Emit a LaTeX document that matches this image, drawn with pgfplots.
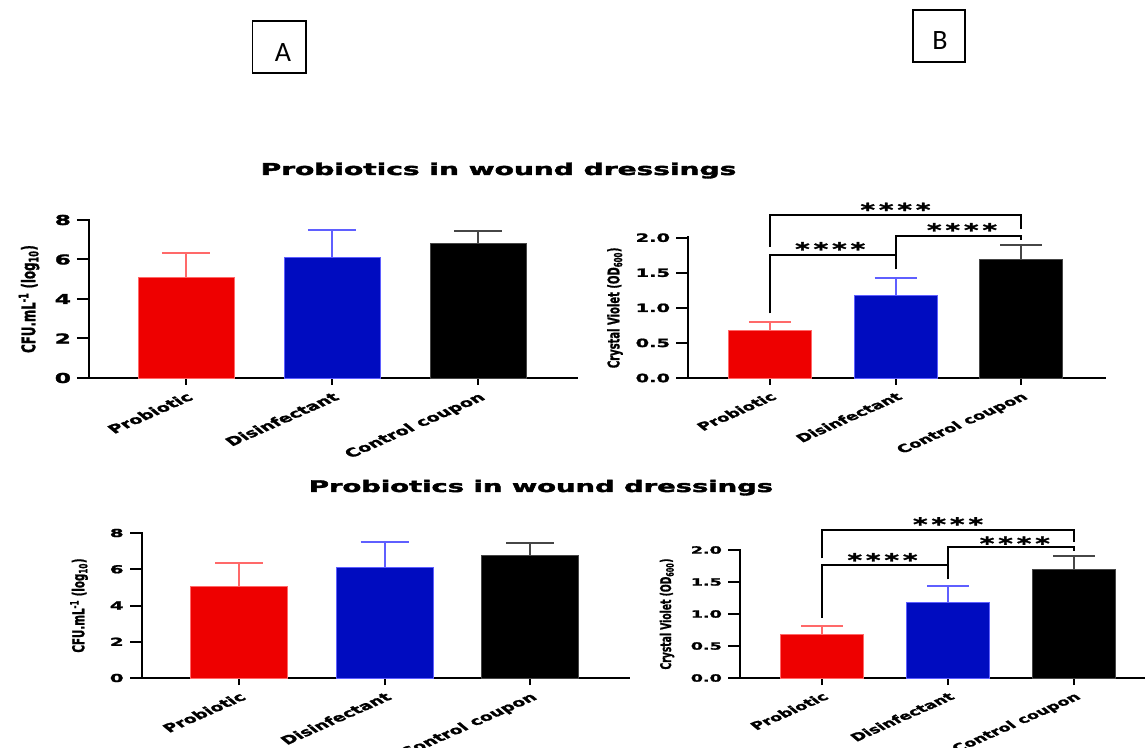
\documentclass[border=0pt]{standalone}
\usepackage{fontspec}
\usepackage{pgfplots}
\pgfplotsset{compat=1.18}
\newfontfamily\dv{DejaVu Sans}[BoldFeatures={FakeBold=1.4}]
\newfontfamily\dvt{DejaVu Sans}[BoldFeatures={FakeBold=2}]
\newfontfamily\calfont{Carlito}
\definecolor{cred}{RGB}{238,0,0}
\definecolor{cblue}{RGB}{0,12,192}
\definecolor{ered}{RGB}{255,105,105}
\definecolor{eblue}{RGB}{95,95,255}
\definecolor{eblack}{RGB}{70,70,70}
\pgfplotsset{
  panel/.style={
    scale only axis, axis lines=left,
    axis line style={-, line width=2.6pt, line cap=rect},
    tick align=outside,
    tick style={black, line width=2pt},
    major tick length=12pt,
    xtick style={/pgfplots/major tick length=7pt},
    enlargelimits=false, clip=false, ymin=0,
    xtick={0,1,2},
    xticklabels={Probiotic,Disinfectant,Control coupon},
    every axis y label/.style={at={(axis description cs:0,0.5)}, xshift=#1, rotate=90, yscale=1.6, anchor=center},
  },
  cfu/.style={ymax=8, ytick={0,2,4,6,8}, yticklabels={0,2,4,6,8},
    ylabel={CFU.mL\textsuperscript{-1} (log\textsubscript{10})}},
  cv/.style={ymax=2, ytick={0,0.5,1,1.5,2}, yticklabels={0.0,0.5,1.0,1.5,2.0},
    ylabel={Crystal Violet (OD\textsubscript{600})}},
  bar/.style n args={4}{ybar, bar width=#1, fill=#2, draw=#3, line width=0.8pt,
    error bars/.cd, y dir=plus, y explicit,
    error bar style={line width=2pt, color=#3},
    error mark options={rotate=90, line width=2pt, color=#3, mark size=#4}},
}
\newcommand{\stars}{*\hspace{0.14em}*\hspace{0.14em}*\hspace{0.14em}*}
\tikzset{stars/.style={font=\dv\bfseries\fontsize{18}{20}\selectfont, xscale=1.55, anchor=center, yshift=-4pt}}
\begin{document}
\begin{tikzpicture}
\useasboundingbox (0,0) rectangle (1145pt,747pt);
\fill[white] (0,0) rectangle (1145pt,747pt);
% A / B boxes
\draw[line width=1.4pt] (252.5pt,674pt) rectangle (306pt,726pt);
\node[font=\calfont\fontsize{28}{30}\selectfont, anchor=base] at (283pt,685pt) {A};
\draw[line width=1.4pt] (913pt,685pt) rectangle (965pt,737pt);
\node[font=\calfont\fontsize{28}{30}\selectfont, anchor=base] at (940pt,697pt) {B};
% titles
\node[font=\dvt\bfseries\fontsize{16.4}{18}\selectfont, xscale=1.71, anchor=base] at (498.5pt,572pt) {Probiotics in wound dressings};
\node[font=\dvt\bfseries\fontsize{16}{18}\selectfont, xscale=1.71, anchor=base] at (541pt,255pt) {Probiotics in wound dressings};

% ---------- top left
\begin{axis}[panel=-60pt, cfu, at={(89pt,369pt)}, anchor=south west,
  width=488pt, height=158pt, xmin=-0.664, xmax=2.678,
  yticklabel style={font=\dv\bfseries\fontsize{13.7}{15}\selectfont, xscale=1.7},
  xticklabel style={font=\dv\bfseries\fontsize{11.8}{13}\selectfont, anchor=north east, xscale=1.65, rotate=36, inner sep=1pt},
  ylabel style={font=\dv\bfseries\fontsize{11.8}{13}\selectfont}]
\addplot[bar={96pt}{cred}{ered}{24pt}] coordinates {(0,5.08) +- (0,1.26)};
\addplot[bar={96pt}{cblue}{eblue}{24pt}] coordinates {(1,6.11) +- (0,1.38)};
\addplot[bar={96pt}{black}{eblack}{24pt}] coordinates {(2,6.79) +- (0,0.65)};
\end{axis}

% ---------- top right
\begin{axis}[panel=-73pt, cv, at={(688pt,369pt)}, anchor=south west,
  width=417pt, height=140.3pt, xmin=-0.653, xmax=2.669,
  yticklabel style={font=\dv\bfseries\fontsize{11.4}{13}\selectfont, xscale=1.7},
  xticklabel style={font=\dv\bfseries\fontsize{11}{13}\selectfont, anchor=north east, xscale=1.65, rotate=36, inner sep=1pt},
  ylabel style={font=\dv\bfseries\fontsize{10}{12}\selectfont}]
\addplot[bar={83pt}{cred}{ered}{21pt}] coordinates {(0,0.673) +- (0,0.123)};
\addplot[bar={83pt}{cblue}{eblue}{21pt}] coordinates {(1,1.18) +- (0,0.25)};
\addplot[bar={83pt}{black}{eblack}{21pt}] coordinates {(2,1.69) +- (0,0.20)};
\draw[line width=2pt] (axis cs:0,0.92) |- (axis cs:1,1.75) -- (axis cs:1,1.55);
\draw[line width=2pt] (axis cs:1,1.55) |- (axis cs:2,2.03) -- (axis cs:2,1.97);
\draw[line width=2pt] (axis cs:0,1.87) |- (axis cs:2,2.33) -- (axis cs:2,2.13);
\node[stars] at (axis cs:0.48,1.90) {\stars};
\node[stars] at (axis cs:1.53,2.17) {\stars};
\node[stars] at (axis cs:1.0,2.46) {\stars};
\end{axis}

% ---------- bottom left
\begin{axis}[panel=-63pt, cfu, at={(142pt,69pt)}, anchor=south west,
  width=487pt, height=145pt, xmin=-0.667, xmax=2.68,
  yticklabel style={font=\dv\bfseries\fontsize{11}{13}\selectfont, xscale=1.8},
  xticklabel style={font=\dv\bfseries\fontsize{11.5}{13}\selectfont, anchor=north east, xscale=1.65, rotate=36, inner sep=1pt},
  ylabel style={font=\dv\bfseries\fontsize{10.3}{12}\selectfont}]
\addplot[bar={97pt}{cred}{ered}{24pt}] coordinates {(0,5.08) +- (0,1.26)};
\addplot[bar={97pt}{cblue}{eblue}{24pt}] coordinates {(1,6.09) +- (0,1.40)};
\addplot[bar={97pt}{black}{eblack}{24pt}] coordinates {(2,6.75) +- (0,0.68)};
\end{axis}

% ---------- bottom right
\begin{axis}[panel=-73pt, cv, at={(740pt,69pt)}, anchor=south west,
  width=405pt, height=128pt, xmin=-0.651, xmax=2.563,
  yticklabel style={font=\dv\bfseries\fontsize{10}{12}\selectfont, xscale=1.75},
  xticklabel style={font=\dv\bfseries\fontsize{10.8}{12}\selectfont, anchor=north east, xscale=1.65, rotate=36, inner sep=1pt},
  ylabel style={font=\dv\bfseries\fontsize{9.2}{11}\selectfont}]
\addplot[bar={83pt}{cred}{ered}{21pt}] coordinates {(0,0.68) +- (0,0.125)};
\addplot[bar={83pt}{cblue}{eblue}{21pt}] coordinates {(1,1.18) +- (0,0.26)};
\addplot[bar={83pt}{black}{eblack}{21pt}] coordinates {(2,1.70) +- (0,0.20)};
\draw[line width=2pt] (axis cs:0,0.94) |- (axis cs:1,1.77) -- (axis cs:1,1.56);
\draw[line width=2pt] (axis cs:1,1.54) |- (axis cs:2,2.04) -- (axis cs:2,1.98);
\draw[line width=2pt] (axis cs:0,1.87) |- (axis cs:2,2.32) -- (axis cs:2,2.13);
\node[stars] at (axis cs:0.48,1.91) {\stars};
\node[stars] at (axis cs:1.53,2.17) {\stars};
\node[stars] at (axis cs:1.0,2.47) {\stars};
\end{axis}
\end{tikzpicture}
\end{document}
